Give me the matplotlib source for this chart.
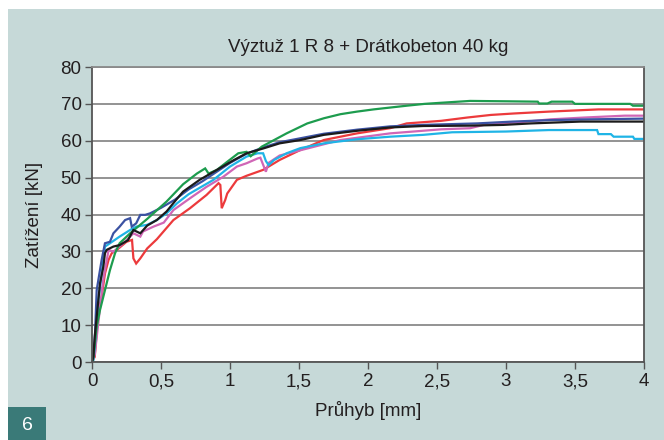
import matplotlib
matplotlib.use("Agg")
import matplotlib.pyplot as plt
from matplotlib.patches import Rectangle

plt.rcParams['font.family'] = ['Liberation Sans', 'DejaVu Sans']

title = "Výztuž 1 R 8 + Drátkobeton 40 kg"
xlabel = "Průhyb [mm]"
ylabel = "Zatížení [kN]"
fig_number = "6"

xticks = [0, 0.5, 1, 1.5, 2, 2.5, 3, 3.5, 4]
xtick_labels = ["0", "0,5", "1", "1,5", "2", "2,5", "3", "3,5", "4"]
yticks = [0, 10, 20, 30, 40, 50, 60, 70, 80]

red_x = [0, 0.02, 0.046, 0.07, 0.094, 0.12, 0.143, 0.18, 0.25, 0.29, 0.3, 0.32, 0.35, 0.4, 0.47, 0.59, 0.71, 0.83, 0.917, 0.93, 0.94, 0.965, 0.98, 1.05, 1.12, 1.24, 1.36, 1.51, 1.68, 1.92, 2.16, 2.28, 2.53, 2.72, 2.89, 3.06, 3.31, 3.67, 4.0]
red_y = [0, 1.4, 14.1, 17.7, 24, 27.7, 29.5, 30.4, 32.6, 33.1, 28.1, 26.7, 28.1, 30.8, 33.3, 38.5, 41.7, 45.3, 48.5, 48, 41.7, 43.9, 45.7, 49.4, 50.5, 52.1, 54.8, 57.5, 60.2, 62, 63.4, 64.7, 65.4, 66.3, 67, 67.4, 67.9, 68.5, 68.5]

magenta_x = [0, 0.02, 0.05, 0.08, 0.12, 0.155, 0.227, 0.3, 0.35, 0.37, 0.445, 0.52, 0.59, 0.71, 0.83, 0.95, 1.05, 1.12, 1.2, 1.22, 1.24, 1.26, 1.28, 1.36, 1.56, 1.80, 2.16, 2.53, 2.74, 2.84, 3.15, 3.32, 3.57, 3.86, 4.0]
magenta_y = [0, 2, 12, 22, 30.4, 29.9, 32.2, 34.9, 34, 35.4, 36.7, 37.8, 41.2, 44.4, 47.5, 50.2, 53, 53.9, 55.2, 55.4, 53.5, 51.6, 54, 56, 57.9, 60.2, 62, 63.1, 63.4, 64.3, 65.2, 65.8, 66.3, 66.8, 66.8]

cyan_x = [0, 0.01, 0.02, 0.046, 0.07, 0.094, 0.13, 0.2, 0.276, 0.32, 0.4, 0.47, 0.54, 0.615, 0.7, 0.88, 1.0, 1.12, 1.2, 1.24, 1.26, 1.28, 1.32, 1.41, 1.51, 1.68, 1.92, 2.16, 2.4, 2.61, 3.0, 3.31, 3.66, 3.67, 3.76, 3.78, 3.92, 3.93, 4.0]
cyan_y = [0, 0.5, 4.1, 16.8, 24, 31.3, 32.2, 34, 35.8, 36.7, 37.2, 38.5, 40.3, 43, 45.5, 49.4, 53, 55.7, 56.6, 56.6, 54.5, 53.4, 54.8, 56.6, 58, 59.3, 60.4, 61.1, 61.6, 62.3, 62.5, 62.9, 62.9, 61.8, 61.8, 61.1, 61.1, 60.5, 60.5]

blue_x = [0, 0.01, 0.022, 0.034, 0.07, 0.094, 0.13, 0.155, 0.2, 0.24, 0.276, 0.288, 0.32, 0.35, 0.385, 0.42, 0.5, 0.6, 0.7, 0.8, 0.9, 1.0, 1.12, 1.25, 1.36, 1.5, 1.68, 1.92, 2.16, 2.4, 2.79, 3.05, 3.32, 3.6, 4.0]
blue_y = [0, 1.5, 7.8, 19.5, 27.7, 32.2, 32.6, 34.9, 36.7, 38.5, 39, 36.7, 37.6, 39.9, 39.9, 40.3, 41.8, 44, 46.8, 49, 51.5, 54, 56.5, 58.3, 59.6, 60.6, 61.9, 63, 63.9, 64.3, 64.7, 65.2, 65.6, 65.8, 66]

green_x = [0, 0.01, 0.034, 0.058, 0.094, 0.13, 0.167, 0.2, 0.276, 0.4, 0.54, 0.66, 0.76, 0.82, 0.845, 0.905, 0.98, 1.06, 1.12, 1.15, 1.23, 1.32, 1.41, 1.51, 1.56, 1.68, 1.80, 1.92, 2.04, 2.16, 2.28, 2.41, 2.53, 2.74, 3.0, 3.23, 3.24, 3.30, 3.33, 3.48, 3.5, 3.9, 3.92, 4.0]
green_y = [0, 1.4, 9.6, 14.1, 19.5, 24.9, 29.5, 32.2, 34.9, 38.8, 43.5, 48.2, 51.1, 52.5, 51.1, 52.1, 54.3, 56.6, 57, 55.8, 58.4, 60.2, 62, 63.8, 64.7, 66.1, 67.2, 67.9, 68.5, 69.0, 69.5, 70, 70.3, 70.8, 70.7, 70.6, 70.1, 70.1, 70.6, 70.6, 70.0, 70.0, 69.5, 69.5]

black_x = [0, 0.01, 0.02, 0.046, 0.058, 0.082, 0.094, 0.106, 0.155, 0.2, 0.26, 0.3, 0.35, 0.4, 0.47, 0.54, 0.61, 0.66, 0.78, 0.905, 1.03, 1.12, 1.24, 1.36, 1.51, 1.68, 1.92, 2.16, 2.4, 2.74, 2.98, 3.18, 3.54, 4.0]
black_y = [0, 1.4, 6.9, 16.8, 21.3, 25.8, 29.5, 30.4, 31.3, 31.7, 33, 35.8, 34.9, 37, 38.5, 40.8, 44, 46.2, 49.4, 52.1, 54.8, 56.6, 57.9, 59.3, 60.2, 61.6, 62.7, 63.6, 64, 64.1, 64.3, 64.7, 65.2, 65.2]

series = [
    (red_x, red_y, "#ec3a3c"),
    (magenta_x, magenta_y, "#d066b6"),
    (cyan_x, cyan_y, "#1fb4e6"),
    (blue_x, blue_y, "#3b52a2"),
    (green_x, green_y, "#1d9c4e"),
    (black_x, black_y, "#1b1b1b"),
]

W, H = 664, 440
fig = plt.figure(figsize=(W / 100, H / 100), dpi=100, facecolor="white")

teal_bg = "#c6d9d8"
fig.patches.append(Rectangle((8 / W, 0), 1 - 8 / W, (H - 9) / H, transform=fig.transFigure,
                             facecolor=teal_bg, edgecolor="none", zorder=-10))
fig.patches.append(Rectangle((8 / W, 0), 38 / W, 33 / H, transform=fig.transFigure,
                             facecolor="#3a7a78", edgecolor="none", zorder=-9))
fig.text(27 / W, 1 - 425 / H, fig_number, color="white", fontsize=14,
         ha="center", va="center")

ax = fig.add_axes([92 / W, 1 - 362 / H, (644 - 92) / W, (362 - 67) / H])
ax.set_facecolor("white")

for xs, ys, c in series:
    ax.plot(xs, ys, color=c, lw=1.6, solid_joinstyle="miter")

FS = 13.5
ax.set_xlim(0, 4)
ax.set_ylim(0, 80)
ax.set_xticks(xticks)
ax.set_xticklabels(xtick_labels)
ax.set_yticks(yticks)
ax.yaxis.grid(True, color="#8a8a8a", lw=1.3)
ax.set_axisbelow(True)
for side in ["left", "bottom", "top", "right"]:
    ax.spines[side].set_color("#555555")
    ax.spines[side].set_linewidth(1.3)
ax.spines["top"].set_color("#8a8a8a")
ax.tick_params(axis="both", direction="out", length=5, width=1, color="#555555",
               labelsize=FS, labelcolor="#231f20")
ax.tick_params(axis="y", pad=2.5)
ax.tick_params(axis="x", pad=3)

ax.set_xlabel(xlabel, fontsize=FS, color="#231f20", labelpad=8)
ax.set_ylabel(ylabel, fontsize=FS, color="#231f20", labelpad=13)
ax.set_title(title, fontsize=FS, color="#231f20", pad=11)

fig.savefig("out.png", dpi=100, facecolor="white")
